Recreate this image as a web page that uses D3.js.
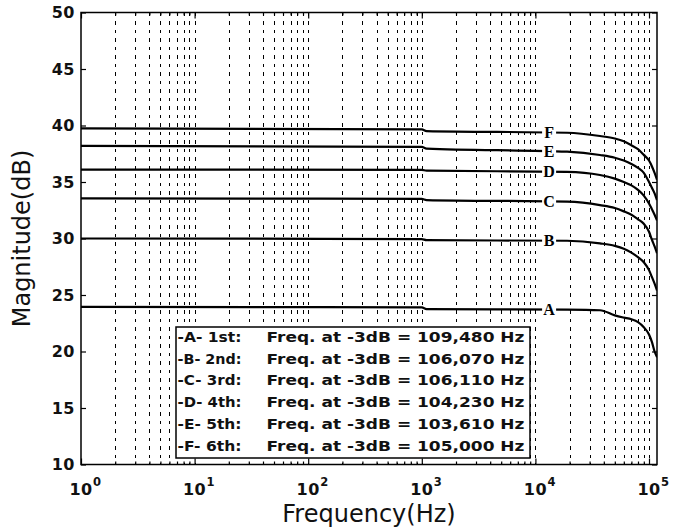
<!DOCTYPE html>
<html>

<head>
  <meta charset="utf-8" />
  <title>Magnitude vs Frequency</title>
  <style>
    body {
      margin: 0;
      background: #fff;
    }

    .grid line {
      stroke: #000;
      stroke-width: 1;
      stroke-dasharray: 3.5, 5;
      shape-rendering: crispEdges;
    }

    .axis path {
      display: none;
    }

    .axis line {
      stroke: #000;
      stroke-width: 1.2;
    }

    .axis text,
    .xlab {
      font-family: 'DejaVu Sans', sans-serif;
      font-weight: bold;
      font-size: 16px;
      letter-spacing: 0.5px;
      fill: #111;
    }

    .title {
      font-family: 'DejaVu Sans', sans-serif;
      font-size: 24px;
      fill: #111;
    }

    .curve {
      fill: none;
      stroke: #000;
      stroke-width: 2.2;
    }

    .curveLabel {
      font-family: 'Liberation Serif', serif;
      font-weight: bold;
      font-size: 16px;
      fill: #000;
    }

    .legend text {
      font-family: 'DejaVu Sans', sans-serif;
      font-weight: bold;
      font-size: 14.5px;
      fill: #111;
    }
  </style>
  <script src="https://cdnjs.cloudflare.com/ajax/libs/d3/7.8.5/d3.min.js"></script>
</head>

<body>
  <div id="chartArea"></div>
  <script>
    // sample frequencies (Hz) shared by every curve
    var freqs = [1, 1000, 1100, 19000, 37000, 50000, 60000, 70000, 80000, 90000, 100000, 106000, 112000, 117600];

    // magnitude in dB
    var magA = [23.95, 23.9, 23.75, 23.7, 23.65, 23.2, 23.0, 22.85, 22.6, 22.15, 21.5, 20.85, 20.0, 19.5];
    var magB = [30.0, 29.95, 29.85, 29.8, 29.57, 29.35, 29.1, 28.75, 28.35, 27.9, 27.2, 26.6, 26.0, 25.4];
    var magC = [33.55, 33.5, 33.4, 33.26, 32.96, 32.7, 32.4, 32.1, 31.7, 31.3, 30.6, 29.9, 29.3, 28.7];
    var magD = [36.1, 36.08, 36.0, 35.9, 35.62, 35.3, 35.0, 34.7, 34.3, 33.8, 33.1, 32.6, 32.1, 31.6];
    var magE = [38.2, 38.1, 37.95, 37.68, 37.39, 37.15, 36.9, 36.6, 36.25, 35.8, 35.0, 34.5, 34.0, 33.4];
    var magF = [39.75, 39.65, 39.5, 39.36, 39.07, 38.85, 38.6, 38.25, 37.9, 37.4, 36.9, 36.4, 35.8, 35.2];

    var curveNames = ['A', 'B', 'C', 'D', 'E', 'F'];
    var curveLabelFreq = 13200;

    var legendPrefix = ['-A- 1st:', '-B- 2nd:', '-C- 3rd:', '-D- 4th:', '-E- 5th:', '-F- 6th:'];
    var cutoffText = ['109,480', '106,070', '106,110', '104,230', '103,610', '105,000'];

    var yTicks = [10, 15, 20, 25, 30, 35, 40, 45, 50];
    var xDecades = [1, 10, 100, 1000, 10000, 100000];
    var xExponents = ['0', '1', '2', '3', '4', '5'];

    var W = 686, H = 529;
    var margin = { top: 12.5, right: 29, bottom: 64.5, left: 81 };
    var w = W - margin.left - margin.right,
      h = H - margin.top - margin.bottom;

    var xScale = d3.scaleLog().domain([1, 117600]).range([0, w]);
    var yScale = d3.scaleLinear().domain([10, 50]).range([h, 0]);

    var minorTicks = [];
    for (var k = 0; k < 5; k++) {
      for (var m = 2; m <= 9; m++) minorTicks.push(m * Math.pow(10, k));
    }
    var gridTicks = minorTicks.concat(xDecades.slice(1));

    var svg = d3.select('#chartArea').append('svg')
      .attr('width', W)
      .attr('height', H);

    var g = svg.append('g')
      .attr('transform', 'translate(' + margin.left + ',' + margin.top + ')');

    // dashed vertical grid
    g.append('g').attr('class', 'grid')
      .selectAll('line')
      .data(gridTicks)
      .enter()
      .append('line')
      .attr('x1', d => Math.round(xScale(d)) + 0.5)
      .attr('x2', d => Math.round(xScale(d)) + 0.5)
      .attr('y1', 0)
      .attr('y2', h);

    // curves
    g.append('clipPath').attr('id', 'plotClip')
      .append('rect').attr('width', w).attr('height', h);

    var allMags = [magA, magB, magC, magD, magE, magF];
    var series = allMags.map(function (mags, i) {
      return {
        name: curveNames[i],
        pts: freqs.map((f, j) => ({ f: f, v: mags[j] })),
        at: d3.scaleLog().domain(freqs).range(mags)
      };
    });

    var line = d3.line()
      .x(d => xScale(d.f))
      .y(d => yScale(d.v))
      .curve(d3.curveMonotoneX);

    g.append('g').attr('clip-path', 'url(#plotClip)')
      .selectAll('path')
      .data(series)
      .enter()
      .append('path')
      .attr('class', 'curve')
      .attr('d', d => line(d.pts));

    // letter on each curve
    var labels = g.selectAll('.clab')
      .data(series)
      .enter()
      .append('g')
      .attr('class', 'clab')
      .attr('transform', d => 'translate(' + xScale(curveLabelFreq) + ',' + yScale(d.at(curveLabelFreq)) + ')');
    labels.append('rect')
      .attr('x', -7).attr('y', -4).attr('width', 14).attr('height', 8)
      .attr('fill', '#fff');
    labels.append('text')
      .attr('class', 'curveLabel')
      .attr('text-anchor', 'middle')
      .attr('dy', '0.34em')
      .text(d => d.name);

    // legend box
    var legend = g.append('g').attr('class', 'legend')
      .attr('transform', 'translate(' + (176 - margin.left) + ',' + (327 - margin.top) + ')');
    legend.append('rect')
      .attr('width', 354).attr('height', 131)
      .attr('fill', '#fff').attr('stroke', '#000').attr('stroke-width', 1.5);
    var rows = legend.selectAll('.row')
      .data(legendPrefix)
      .enter()
      .append('g')
      .attr('class', 'row')
      .attr('transform', (d, i) => 'translate(0,' + (15 + i * 21.7) + ')');
    rows.append('text').attr('x', 1.5)
      .attr('textLength', 64).attr('lengthAdjust', 'spacingAndGlyphs')
      .text(d => d);
    rows.append('text').attr('x', 90.5)
      .attr('textLength', 258).attr('lengthAdjust', 'spacingAndGlyphs')
      .text((d, i) => 'Freq. at -3dB = ' + cutoffText[i] + ' Hz');

    // axes with inward ticks
    g.append('g').attr('class', 'axis')
      .call(d3.axisLeft(yScale).tickValues(yTicks).tickSize(-5).tickPadding(6));
    g.append('g').attr('class', 'axis')
      .attr('transform', 'translate(' + w + ',0)')
      .call(d3.axisRight(yScale).tickValues(yTicks).tickSize(-5).tickFormat(''));
    g.append('g').attr('class', 'axis')
      .attr('transform', 'translate(0,' + h + ')')
      .call(d3.axisBottom(xScale).tickValues(minorTicks).tickSize(-3).tickFormat(''));
    g.append('g').attr('class', 'axis')
      .attr('transform', 'translate(0,' + h + ')')
      .call(d3.axisBottom(xScale).tickValues(xDecades).tickSize(-6).tickFormat(''));
    g.append('g').attr('class', 'axis')
      .call(d3.axisTop(xScale).tickValues(minorTicks).tickSize(-3).tickFormat(''));
    g.append('g').attr('class', 'axis')
      .call(d3.axisTop(xScale).tickValues(xDecades).tickSize(-6).tickFormat(''));

    svg.selectAll('.axis').attr('font-family', null).attr('font-size', null);

    // plot frame
    g.append('rect')
      .attr('width', w).attr('height', h)
      .attr('fill', 'none').attr('stroke', '#000').attr('stroke-width', 1.5);

    // decade labels 10^n
    var xl = g.selectAll('.xlab')
      .data(xDecades)
      .enter()
      .append('g')
      .attr('transform', d => 'translate(' + xScale(d) + ',' + (h + 30) + ')');
    xl.append('text').attr('class', 'xlab')
      .attr('text-anchor', 'middle')
      .text('10');
    xl.append('text').attr('class', 'xlab')
      .attr('x', 12).attr('y', -9)
      .style('font-size', '11.5px')
      .text((d, i) => xExponents[i]);

    // axis titles
    g.append('text').attr('class', 'title')
      .attr('text-anchor', 'middle')
      .attr('x', w / 2).attr('y', h + 57)
      .text('Frequency(Hz)');
    g.append('text').attr('class', 'title')
      .attr('text-anchor', 'middle')
      .attr('transform', 'translate(' + (30 - margin.left) + ',' + (h / 2) + ') rotate(-90)')
      .text('Magnitude(dB)');
  </script>
</body>

</html>
